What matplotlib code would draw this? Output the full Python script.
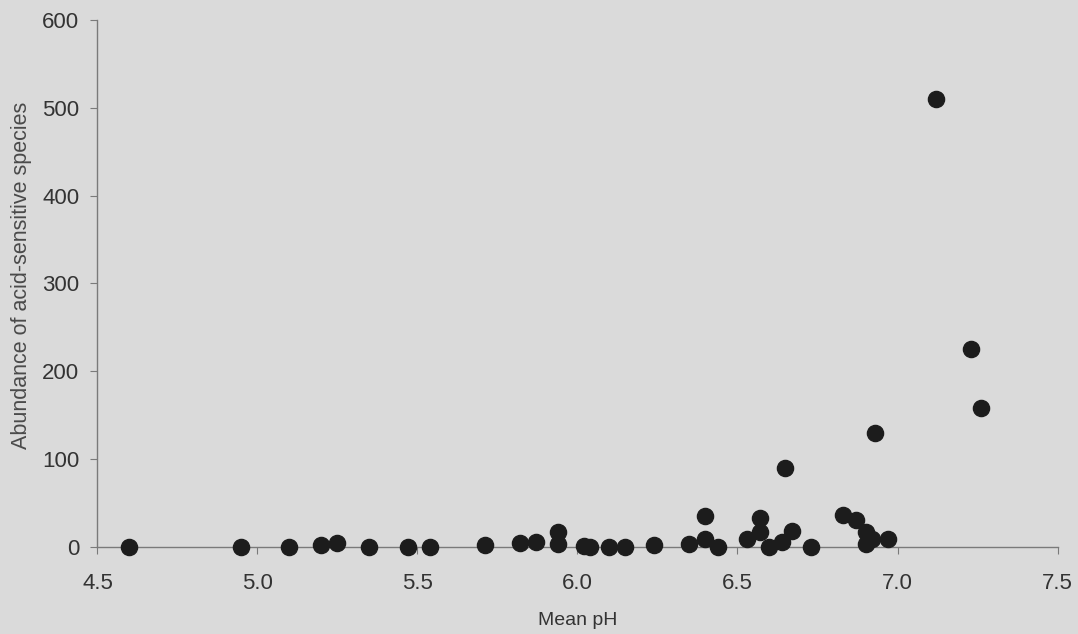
import matplotlib
matplotlib.use('Agg')
import matplotlib.pyplot as plt

plt.rcParams['font.family'] = ['Liberation Sans', 'DejaVu Sans']

# mean pH of each site and abundance of acid-sensitive species
ph = [4.60, 4.95, 5.10, 5.20, 5.25, 5.35, 5.47, 5.54, 5.71, 5.82, 5.87, 5.94, 5.94,
      6.02, 6.04, 6.10, 6.15, 6.24, 6.35, 6.40, 6.40, 6.44, 6.53, 6.57, 6.57, 6.60,
      6.64, 6.65, 6.67, 6.73, 6.83, 6.87, 6.90, 6.90, 6.92, 6.93, 6.97, 7.12, 7.23, 7.26]
abundance = [0, 0, 0, 2, 4, 0, 0, 0, 2, 4, 5, 17, 3,
             1, 0, 0, 0, 2, 3, 35, 8, 0, 8, 33, 16, 0,
             5, 90, 18, 0, 36, 30, 16, 3, 8, 129, 9, 510, 225, 158]

xticks = [4.5, 5.0, 5.5, 6.0, 6.5, 7.0, 7.5]
yticks = [0, 100, 200, 300, 400, 500, 600]

bg = '#dadada'
fig = plt.figure(figsize=(10.78, 6.34), dpi=100, facecolor=bg)
ax = fig.add_axes([0.0904, 0.138, 0.8906, 0.8297])
ax.set_facecolor(bg)

ax.scatter(ph, abundance, s=135, color='#1c1c1c', zorder=3, clip_on=False)

ax.set_xlim(4.5, 7.5)
ax.set_ylim(0, 600)
ax.set_xticks(xticks)
ax.set_xticklabels([f'{t:.1f}' for t in xticks])
ax.set_yticks(yticks)

for s in ['top', 'right']:
    ax.spines[s].set_visible(False)
for s in ['left', 'bottom']:
    ax.spines[s].set_color('#7a7a7a')
    ax.spines[s].set_linewidth(1.0)

ax.tick_params(axis='x', direction='out', length=5, color='#7a7a7a',
               labelsize=16, labelcolor='#333333', pad=14)
ax.tick_params(axis='y', direction='out', length=5, color='#7a7a7a',
               labelsize=16, labelcolor='#333333', pad=8)

ax.set_xlabel('Mean pH', fontsize=14, color='#333333', labelpad=13)
ax.set_ylabel('Abundance of acid-sensitive species', fontsize=15.5, color='#4a4a4a')
ax.yaxis.set_label_coords(-0.068, 0.516)

fig.savefig('out.png', dpi=100, facecolor=bg)
